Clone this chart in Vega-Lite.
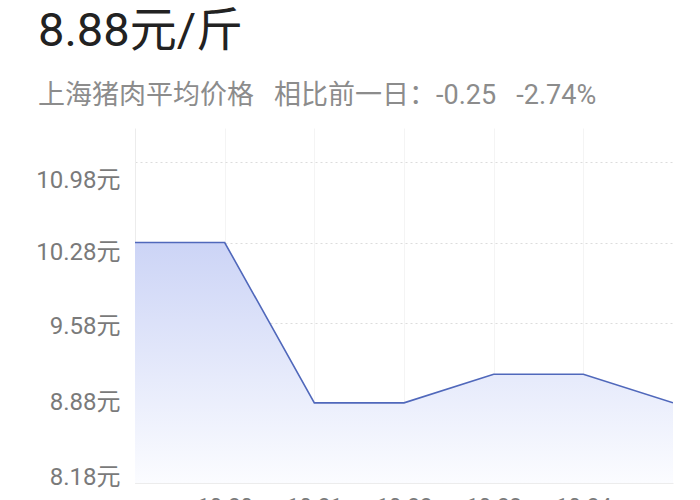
{
  "$schema": "https://vega.github.io/schema/vega-lite/v6.json",
  "description": "上海猪肉平均价格走势",
  "background": "white",
  "autosize": "none",
  "padding": {"left": 135, "top": 128, "right": 27, "bottom": 17},
  "width": 538,
  "height": 355,
  "title": {
    "text": "8.88元/斤",
    "subtitle": "上海猪肉平均价格\u00a0\u00a0\u00a0相比前一日：-0.25\u00a0\u00a0\u00a0-2.74%",
    "anchor": "start",
    "frame": "group",
    "dx": -97,
    "offset": 18,
    "font": "Roboto, Noto Sans CJK SC",
    "fontSize": 47,
    "fontWeight": "normal",
    "color": "#222222",
    "subtitleFont": "Roboto, Noto Sans CJK SC",
    "subtitleFontSize": 27,
    "subtitleColor": "#8c8c8c",
    "subtitlePadding": 27
  },
  "data": {
    "values": [
      {"day": "10-19", "price": 10.28},
      {"day": "10-20", "price": 10.28},
      {"day": "10-21", "price": 8.88},
      {"day": "10-22", "price": 8.88},
      {"day": "10-23", "price": 9.13},
      {"day": "10-24", "price": 9.13},
      {"day": "10-25", "price": 8.88}
    ]
  },
  "encoding": {
    "x": {
      "field": "day",
      "type": "ordinal",
      "scale": {"type": "point", "padding": 0},
      "axis": {
        "title": null,
        "values": ["10-20", "10-21", "10-22", "10-23", "10-24"],
        "labelAngle": 0,
        "labelFont": "Roboto",
        "labelFontSize": 22,
        "labelColor": "#7a7a7a",
        "labelPadding": 13,
        "ticks": false,
        "domainColor": "#ececec",
        "grid": true,
        "gridColor": "#f4f4f4"
      }
    },
    "y": {
      "field": "price",
      "type": "quantitative",
      "scale": {"domain": [8.18, 11.28], "zero": false, "nice": false},
      "axis": {
        "title": null,
        "values": [8.18, 8.88, 9.58, 10.28, 10.98],
        "format": ".2f",
        "labelExpr": "datum.label + '元'",
        "labelFont": "Roboto, Noto Sans CJK SC",
        "labelFontSize": 24,
        "labelColor": "#7a7a7a",
        "labelPadding": 15,
        "labelOffset": {
          "condition": [
            {"test": "datum.value > 10.9", "value": 18},
            {"test": "datum.value > 10.2", "value": 10},
            {"test": "datum.value > 9.5", "value": 4},
            {"test": "datum.value < 8.5", "value": -6}
          ],
          "value": 0
        },
        "ticks": false,
        "domainColor": "#ececec",
        "grid": true,
        "gridColor": "#dcdcdc",
        "gridDash": [2, 3]
      }
    }
  },
  "layer": [
    {
      "mark": {
        "type": "area",
        "clip": true,
        "color": {
          "gradient": "linear",
          "x1": 0, "y1": 0, "x2": 0, "y2": 1,
          "stops": [
            {"offset": 0, "color": "#ccd4f6"},
            {"offset": 1, "color": "#fbfcff"}
          ]
        }
      },
      "encoding": {"y2": {"datum": 8.18}}
    },
    {
      "mark": {"type": "line", "color": "#5068bb", "strokeWidth": 1.6, "clip": true}
    }
  ],
  "config": {"view": {"stroke": null}}
}
